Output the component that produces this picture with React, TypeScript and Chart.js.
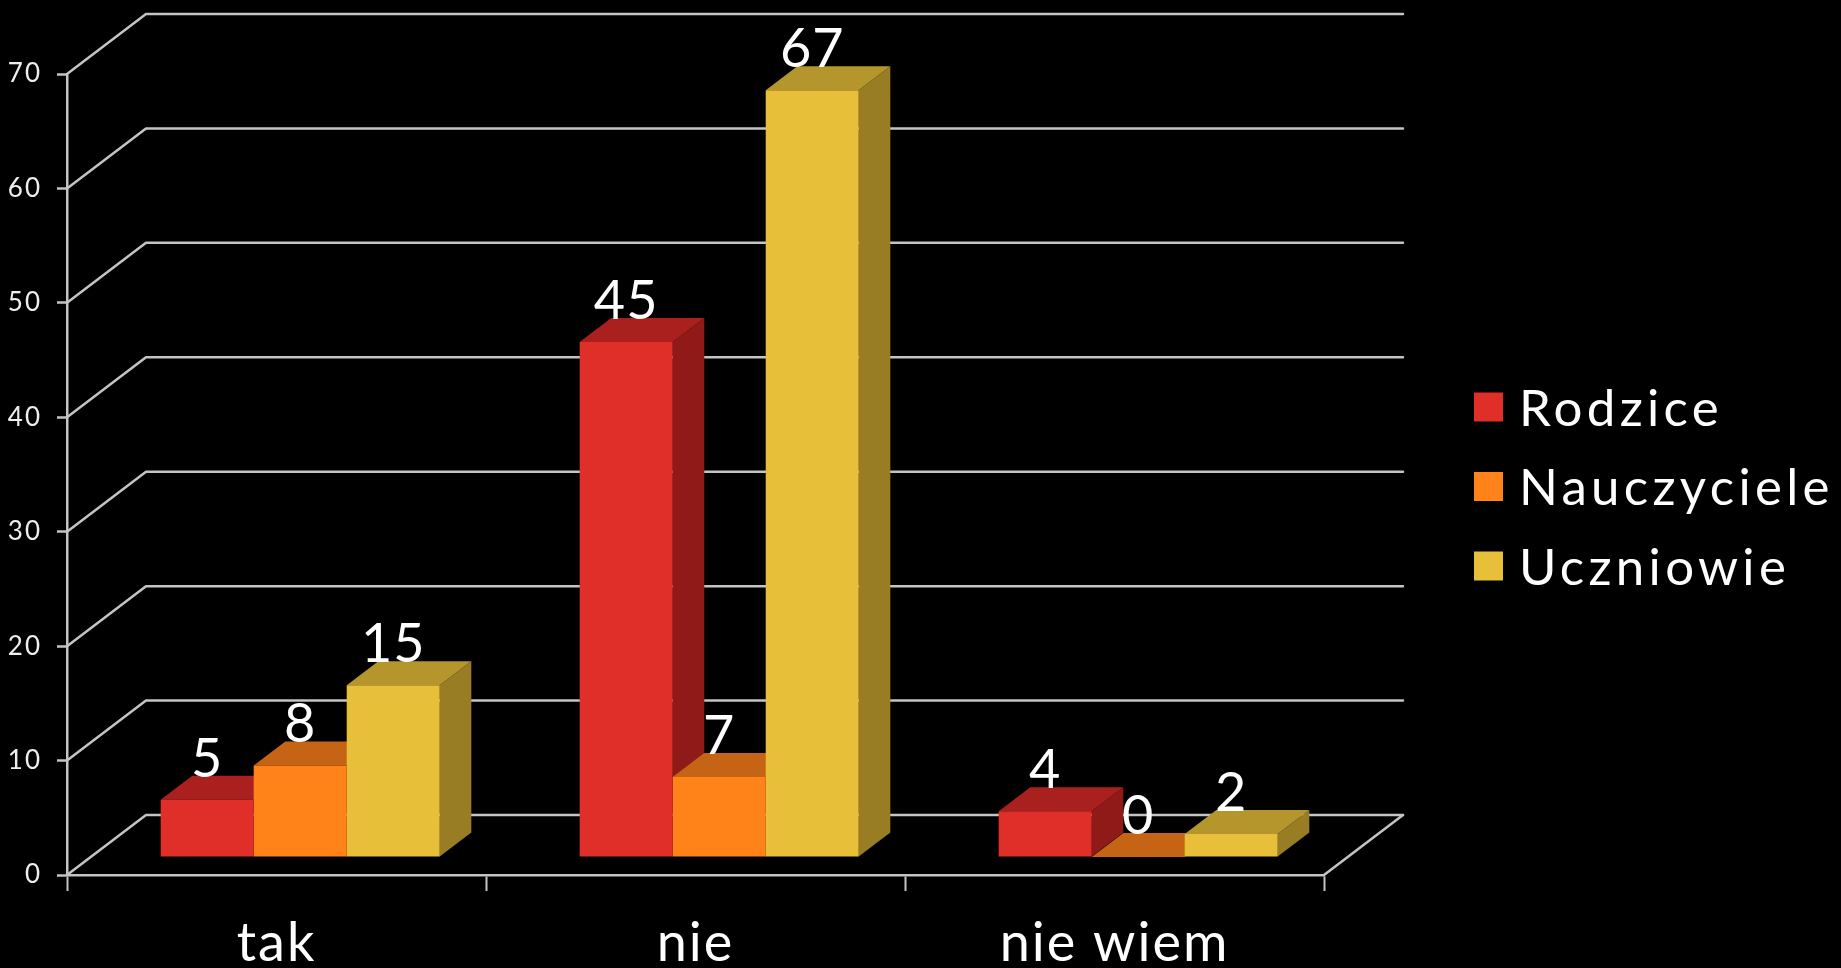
import React, { useEffect, useRef } from 'react';
import { Chart, registerables } from 'chart.js';

Chart.register(...registerables);

// ---- data ----
const categories = ['tak', 'nie', 'nie wiem'];
const seriesNames = ['Rodzice', 'Nauczyciele', 'Uczniowie'];
const rodzice = [5, 45, 4];
const nauczyciele = [8, 7, 0];
const uczniowie = [15, 67, 2];
const yMin = 0;
const yMax = 70;
const yStep = 10;

// ---- styles ----
const FONT = 'Lato, "Noto Sans", sans-serif';
const frontColors = ['#E02E28', '#FF8319', '#E8BF38'];
const topColors = ['#A9201E', '#C46414', '#B4962D'];
const sideColors = ['#8F1A17', '#A9520F', '#987D24'];
const GRID = '#c4c4c4';
const DEPTH_X = 79;
const DEPTH_Y = -60;
const BAR_FRONT = 0.3;
const BAR_DEPTH = 0.4;

function barBoxes(chart: any, i: number) {
  const fx = DEPTH_X * BAR_FRONT;
  const fy = DEPTH_Y * BAR_FRONT;
  return chart.getDatasetMeta(i).data.map((el: any) => {
    const { x, y, base, width } = el.getProps(['x', 'y', 'base', 'width'], true);
    return { l: x - width / 2 + fx, r: x + width / 2 + fx, t: y + fy, b: base + fy };
  });
}

const threeD = {
  id: 'threeD',
  beforeDraw(chart: any) {
    const { ctx, width, height } = chart;
    ctx.save();
    ctx.fillStyle = '#000';
    ctx.fillRect(0, 0, width, height);
    ctx.restore();
    ctx.letterSpacing = '2px';
  },
  beforeDatasetsDraw(chart: any) {
    const { ctx, chartArea, scales } = chart;
    const y = scales.y;
    ctx.save();
    ctx.strokeStyle = GRID;
    ctx.lineWidth = 2.5;
    ctx.lineJoin = 'round';
    ctx.lineCap = 'round';
    y.ticks.forEach((t: any) => {
      const py = y.getPixelForValue(t.value);
      ctx.beginPath();
      ctx.moveTo(chartArea.left, py);
      ctx.lineTo(chartArea.left + DEPTH_X, py + DEPTH_Y);
      ctx.lineTo(chartArea.right + DEPTH_X, py + DEPTH_Y);
      ctx.stroke();
    });
    const p0 = y.getPixelForValue(yMin);
    ctx.beginPath();
    ctx.moveTo(chartArea.right, p0);
    ctx.lineTo(chartArea.right + DEPTH_X, p0 + DEPTH_Y);
    ctx.stroke();

    const bx = DEPTH_X * BAR_DEPTH;
    const by = DEPTH_Y * BAR_DEPTH;
    const n = chart.data.datasets.length;
    // side faces
    for (let i = 0; i < n; i++) {
      ctx.fillStyle = sideColors[i];
      barBoxes(chart, i).forEach(({ r, t, b }: any) => {
        ctx.beginPath();
        ctx.moveTo(r, t);
        ctx.lineTo(r + bx, t + by);
        ctx.lineTo(r + bx, b + by);
        ctx.lineTo(r, b);
        ctx.closePath();
        ctx.fill();
      });
    }
    // top faces
    for (let i = 0; i < n; i++) {
      ctx.fillStyle = topColors[i];
      barBoxes(chart, i).forEach(({ l, r, t }: any) => {
        ctx.beginPath();
        ctx.moveTo(l, t);
        ctx.lineTo(r, t);
        ctx.lineTo(r + bx, t + by);
        ctx.lineTo(l + bx, t + by);
        ctx.closePath();
        ctx.fill();
      });
    }
    ctx.restore();
  },
  beforeDatasetDraw(chart: any) {
    const { ctx } = chart;
    ctx.save();
    ctx.translate(DEPTH_X * BAR_FRONT, DEPTH_Y * BAR_FRONT);
  },
  afterDatasetDraw(chart: any) {
    chart.ctx.restore();
  },
  afterDatasetsDraw(chart: any) {
    const { ctx } = chart;
    const by = DEPTH_Y * BAR_DEPTH;
    ctx.save();
    ctx.letterSpacing = '1px';
    ctx.fillStyle = '#ffffff';
    ctx.font = `54px ${FONT}`;
    ctx.textAlign = 'center';
    ctx.textBaseline = 'alphabetic';
    chart.data.datasets.forEach((ds: any, i: number) => {
      barBoxes(chart, i).forEach(({ l, r, t }: any, j: number) => {
        ctx.fillText(String(ds.data[j]), (l + r) / 2, t + by + 1);
      });
    });
    ctx.restore();
  },
  afterDraw(chart: any) {
    const { ctx } = chart;
    ctx.save();
    ctx.letterSpacing = '4.3px';
    ctx.font = `51px ${FONT}`;
    ctx.textAlign = 'left';
    ctx.textBaseline = 'alphabetic';
    chart.data.datasets.forEach((ds: any, i: number) => {
      const cy = 407 + i * 79.5;
      ctx.fillStyle = frontColors[i];
      ctx.fillRect(1474, cy - 14.5, 29, 29);
      ctx.fillStyle = '#ffffff';
      ctx.fillText(ds.label, 1519, cy + 18.5);
    });
    ctx.restore();
    ctx.letterSpacing = '0px';
  },
};

export default function App() {
  const ref = useRef<HTMLCanvasElement | null>(null);
  useEffect(() => {
    document.body.style.background = '#000';
    const canvas = ref.current;
    if (!canvas) return;
    const seriesData = [rodzice, nauczyciele, uczniowie];
    const chart = new Chart(canvas, {
      type: 'bar',
      data: {
        labels: categories,
        datasets: seriesNames.map((name, i) => ({
          label: name,
          data: seriesData[i],
          backgroundColor: frontColors[i],
          borderWidth: 0,
          barPercentage: 1,
          categoryPercentage: 0.666,
          clip: false as any,
        })),
      },
      options: {
        responsive: false,
        animation: false,
        events: [],
        layout: { padding: { top: 74, right: 517, left: 0, bottom: 0 } },
        plugins: { legend: { display: false }, tooltip: { enabled: false } },
        scales: {
          x: {
            grid: {
              drawOnChartArea: false,
              drawTicks: true,
              tickLength: 16,
              tickColor: GRID,
              tickWidth: 2,
              offset: true,
            },
            border: { display: true, color: GRID, width: 2.5 },
            ticks: {
              color: '#ffffff',
              font: { family: FONT, size: 54 },
              padding: 20,
              maxRotation: 0,
              autoSkip: false,
            },
            afterFit(scale: any) {
              scale.height = 93;
            },
          },
          y: {
            min: yMin,
            max: yMax,
            grid: {
              drawOnChartArea: false,
              drawTicks: true,
              tickLength: 10,
              tickColor: GRID,
              tickWidth: 2.5,
            },
            border: { display: true, color: GRID, width: 2.5 },
            ticks: {
              stepSize: yStep,
              color: '#eeeeee',
              font: { family: FONT, size: 26 },
              padding: 15,
            },
            afterFit(scale: any) {
              scale.width = 67;
            },
          },
        },
      },
      plugins: [threeD],
    });
    return () => chart.destroy();
  }, []);
  return (
    <div style={{ position: 'fixed', left: 0, top: 0, width: 1841, height: 968, background: '#000' }}>
      <canvas ref={ref} width={1841} height={968} style={{ display: 'block', width: 1841, height: 968 }} />
    </div>
  );
}
